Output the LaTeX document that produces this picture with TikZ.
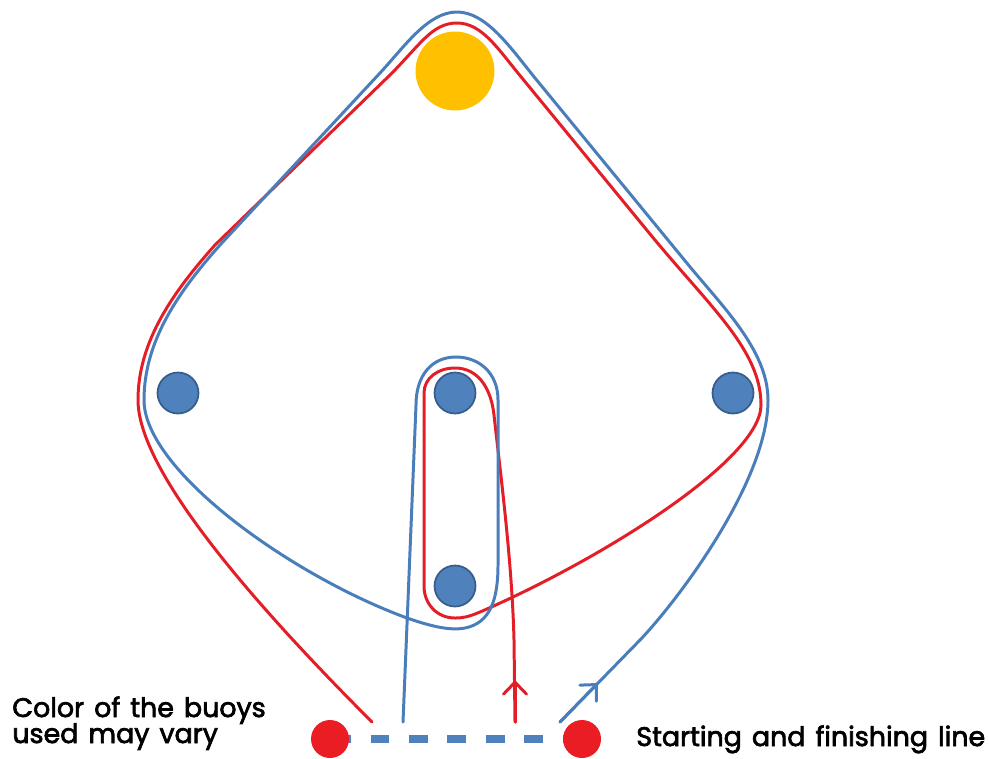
\documentclass[tikz,border=0pt]{standalone}
\usepackage{fontspec}
\usetikzlibrary{arrows.meta}
\newfontfamily\lblfont{Poppins}[FakeBold=2.5, WordSpace=1.4]
\definecolor{routeblue}{RGB}{74,126,187}
\definecolor{routered}{RGB}{228,30,38}
\definecolor{buoyblue}{RGB}{79,129,189}
\definecolor{buoyedge}{RGB}{56,93,138}
\definecolor{buoyred}{RGB}{234,28,36}
\definecolor{buoyyellow}{RGB}{255,192,0}
\tikzset{
  route/.style={line width=1.7pt, line join=round, line cap=round},
  barb/.style={-{Straight Barb[length=0.24cm, width=0.46cm, line cap=round]}},
  bluebuoy/.style={circle, fill=buoyblue, draw=buoyedge, line width=1pt, minimum size=0.82cm, inner sep=0pt},
  redbuoy/.style={circle, fill=buoyred, minimum size=0.76cm, inner sep=0pt},
  markbuoy/.style={circle, fill=buoyyellow, minimum size=1.58cm, inner sep=0pt},
  startline/.style={buoyblue, line width=4.5pt, dash pattern=on 0.38cm off 0.39cm},
  lbl/.style={font=\lblfont\fontsize{15.3}{19}\selectfont, inner sep=0pt, anchor=base west}
}
\begin{document}
\begin{tikzpicture}[x=0.02cm, y=-0.02cm]
\useasboundingbox (0,0) rectangle (989,758);

% route end points
\coordinate (rA) at (372,722);
\coordinate (rB) at (515,722);
\coordinate (rTip) at (515,680);
\coordinate (bA) at (560,722);
\coordinate (bTip) at (598,683);
\coordinate (bB) at (403,722);
\coordinate (lineL) at (332,739);
\coordinate (lineR) at (582,739);

% red route
\draw[route, routered] (rA) .. controls (250,600) and (138,470) .. (138,400)
  .. controls (138,340) and (175,290) .. (215,245) -- (390,75)
  .. controls (420,45) and (432,23) .. (457,23)
  .. controls (482,23) and (498,49) .. (522,78) -- (650,234)
  .. controls (710,307) and (761,350) .. (761,405)
  .. controls (761,460) and (600,560) .. (480,612)
  .. controls (468,617) and (463,618) .. (455,618)
  .. controls (437,618) and (424,604) .. (424,586) -- (424,393)
  .. controls (424,378) and (438,368) .. (455,368)
  .. controls (478,368) and (491,388) .. (494,415)
  .. controls (500,470) and (512,560) .. (514,640) -- (rB);
\draw[route, routered, barb] (rB) -- (rTip);

% blue route
\draw[route, routeblue] (bA) -- (640,640)
  .. controls (680,598) and (768,480) .. (768,400)
  .. controls (768,350) and (721,305) .. (686,262) -- (535,78)
  .. controls (510,47) and (486,12) .. (457,12)
  .. controls (428,12) and (405,46) .. (380,73) -- (220,245)
  .. controls (180,290) and (144,340) .. (144,400)
  .. controls (144,470) and (290,575) .. (407,618)
  .. controls (430,626) and (450,631) .. (465,628)
  .. controls (490,623) and (498,600) .. (498,565) -- (498,400)
  .. controls (498,372) and (478,357) .. (456,357)
  .. controls (432,357) and (416,375) .. (416,405) -- (bB);
\draw[route, routeblue, barb] (bA) -- (bTip);

% start / finish line
\draw[startline] (lineL) -- (lineR);
\node[redbuoy] (sL) at (330,739) {};
\node[redbuoy] (sR) at (582,739) {};

% buoys
\node[markbuoy] (top) at (455,71) {};
\node[bluebuoy] (left) at (178,393) {};
\node[bluebuoy] (right) at (733,393) {};
\node[bluebuoy] (upper) at (455,393) {};
\node[bluebuoy] (lower) at (455,586) {};

% labels
\node[lbl] (note1) at (12,717) {Color of the buoys};
\node[lbl] (note2) at (12,743) {used may vary};
\node[lbl] (finish) at (636,746) {Starting and finishing line};
\end{tikzpicture}
\end{document}
